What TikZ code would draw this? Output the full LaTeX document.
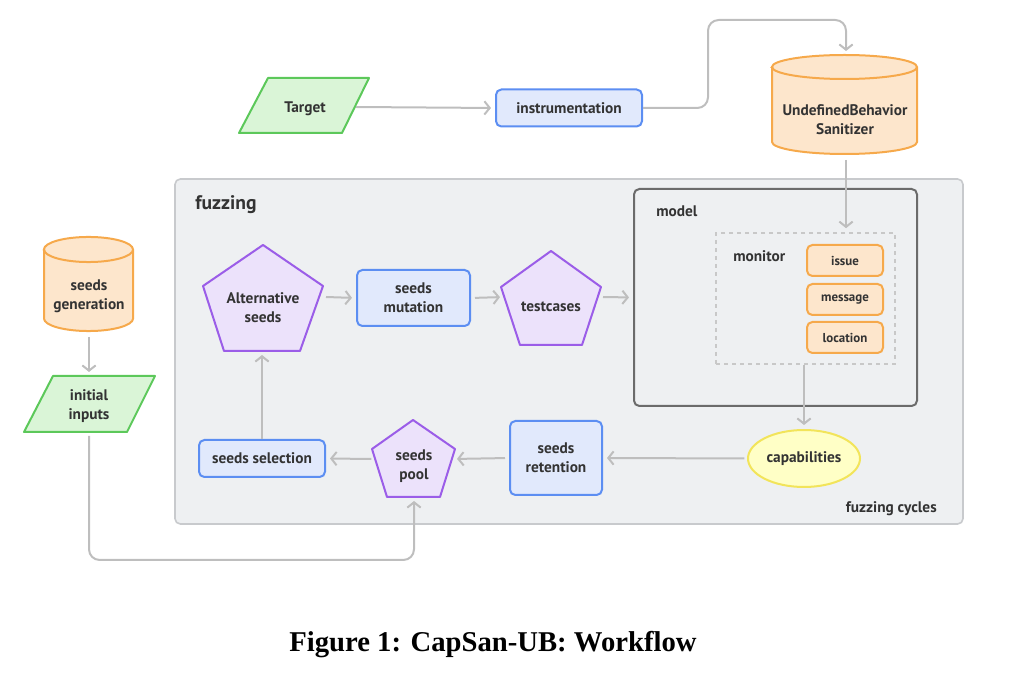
\documentclass[tikz,border=0pt]{standalone}
\usepackage{fontspec}
\setmainfont{PT Sans}
\newfontfamily\capfont{Liberation Serif}
\usetikzlibrary{arrows.meta,shapes.geometric,calc}
\definecolor{txt}{HTML}{333333}
\definecolor{arr}{HTML}{BEBEBE}
\definecolor{grnF}{HTML}{DAF5D7}
\definecolor{grnD}{HTML}{5CC85A}
\definecolor{bluF}{HTML}{E1E9FC}
\definecolor{bluD}{HTML}{5C8EF2}
\definecolor{purF}{HTML}{ECE2FB}
\definecolor{purD}{HTML}{9B5DE8}
\definecolor{orgF}{HTML}{FDE6CC}
\definecolor{orgD}{HTML}{F6A94B}
\definecolor{yelF}{HTML}{FFFFC6}
\definecolor{yelD}{HTML}{F2E45A}
\definecolor{fzF}{HTML}{EEF0F2}
\definecolor{fzD}{HTML}{C8CACD}
\definecolor{mdD}{HTML}{6B6B6B}
\definecolor{monD}{HTML}{C8C8C8}
\tikzset{
  lbl/.style={font=\bfseries\fontsize{11.5}{14.25}\selectfont, text=txt, align=center},
  small/.style={font=\bfseries\fontsize{9.7}{11}\selectfont, text=txt, align=center},
  bbox/.style={draw=bluD, fill=bluF, line width=1.5pt, rounded corners=4pt, inner sep=0pt, lbl},
  obox/.style={draw=orgD, fill=orgF, line width=1.5pt, rounded corners=4pt, inner sep=0pt, small,
    minimum width=57pt, minimum height=23.25pt},
  gpar/.style={draw=grnD, fill=grnF, line width=1.5pt, line join=round},
  pent/.style={draw=purD, fill=purF, line width=1.5pt, line join=round},
  cyl/.style={draw=orgD, fill=orgF, line width=1.5pt},
  flow/.style={draw=arr, line width=1.5pt, -{Straight Barb[length=4pt,width=10pt]}, rounded corners=8pt, shorten >=3pt},
}
\begin{document}
\begin{tikzpicture}[x=0.75pt, y=-0.75pt]
\useasboundingbox (0,0) rectangle (1022,673);

% containers
\node[draw=fzD, fill=fzF, line width=1.2pt, rounded corners=4pt, minimum width=591pt, minimum height=258.75pt, inner sep=0pt] (fuzz) at (569,351.5) {};
\node[anchor=west, font=\bfseries\fontsize{14.7}{17}\selectfont, text=txt, inner sep=0pt] (fuzzlbl) at (195,204.5) {fuzzing};
\node[anchor=east, lbl, inner sep=0pt] (cycles) at (937,509) {fuzzing cycles};
\node[draw=mdD, fill=fzF, line width=1.5pt, rounded corners=4pt, minimum width=212.25pt, minimum height=162.75pt, inner sep=0pt] (model) at (775.5,297.5) {};
\node[anchor=west, lbl, inner sep=0pt] (modellbl) at (656,211) {model};
\node[draw=monD, dashed, dash pattern=on 3pt off 3pt, line width=1.2pt, minimum width=134.25pt, minimum height=98.25pt, inner sep=0pt] (monitor) at (805.5,298.5) {};
\node[anchor=west, lbl, inner sep=0pt] (monlbl) at (733,256) {monitor};
\node[obox] (issue) at (845,260.5) {issue};
\node[obox] (message) at (845,299.5) {message};
\node[obox] (location) at (845,337.5) {location};

% Target parallelogram
\path[gpar] (268,78) -- (369,78) -- (342,133) -- (239,133) -- cycle;
\node[lbl] (target) at (305,108.5) {Target};
\coordinate (targetE) at (356,107);

% instrumentation
\node[bbox, minimum width=109.5pt, minimum height=27.75pt] (instr) at (569,108) {instrumentation};

% UBSan cylinder
\path[cyl] (772,67) -- (772,142) arc[start angle=180, end angle=360, x radius=54.4pt, y radius=9pt] -- (917,67) arc[start angle=0, end angle=180, x radius=54.4pt, y radius=9pt] -- cycle;
\draw[orgD, line width=1.5pt] (772,67) arc[start angle=180, end angle=360, x radius=54.4pt, y radius=9pt];
\node[lbl] (ubsan) at (845,120) {UndefinedBehavior\\Sanitizer};
\coordinate (ubsanN) at (846,55);
\coordinate (ubsanS) at (846,160);

% seeds generation cylinder
\path[cyl] (44,249.5) -- (44,318.5) arc[start angle=180, end angle=360, x radius=33.4pt, y radius=9.4pt] -- (133,249.5) arc[start angle=0, end angle=180, x radius=33.4pt, y radius=9.4pt] -- cycle;
\draw[orgD, line width=1.5pt] (44,249.5) arc[start angle=180, end angle=360, x radius=33.4pt, y radius=9.4pt];
\node[lbl] (gen) at (89,296.5) {seeds\\generation};
\coordinate (genS) at (89,333);

% initial inputs parallelogram
\path[gpar] (53,376) -- (155,376) -- (127,432) -- (24,432) -- cycle;
\node[lbl] (init) at (89,406) {initial\\inputs};
\coordinate (initN) at (89,376);
\coordinate (initS) at (89,436);

% Alternative seeds pentagon
\path[pent] (263,245) -- (323,286) -- (300,351) -- (224,351) -- (203,286) -- cycle;
\node[lbl] (alt) at (263,307.5) {Alternative\\seeds};
\coordinate (altE) at (326,297);
\coordinate (altS) at (262,351);

% seeds mutation
\node[bbox, minimum width=84.75pt, minimum height=42pt] (mut) at (413.5,298) {seeds\\mutation};

% testcases pentagon
\path[pent] (551,251) -- (601,287) -- (582,345) -- (520,345) -- (501,287) -- cycle;
\node[lbl] (tc) at (551,307) {testcases};
\coordinate (tcW) at (504,297);
\coordinate (tcE) at (603,297);

% capabilities
\node[ellipse, draw=yelD, fill=yelF, line width=1.5pt, minimum width=84pt, minimum height=42.75pt, inner sep=0pt, lbl] (cap) at (804,458.5) {capabilities};

% seeds retention
\node[bbox, minimum width=69pt, minimum height=55.5pt] (ret) at (556,458) {seeds\\retention};

% seeds pool pentagon
\path[pent] (413,420) -- (455,449) -- (440,497) -- (387,497) -- (372,449) -- cycle;
\node[lbl] (pool) at (414,466.5) {seeds\\pool};
\coordinate (poolE) at (453,459);
\coordinate (poolW) at (374,459);
\coordinate (poolS) at (414,497);

% seeds selection
\node[bbox, minimum width=94.5pt, minimum height=27.75pt] (sel) at (262,458.5) {seeds selection};

% connectors
\draw[flow] (targetE) -- (instr.west);
\draw[flow] (instr.east) -- (708,108) -- (708,20) -- (846,20) -- (ubsanN);
\draw[flow] (ubsanS) -- (ubsanS |- monitor.north);
\draw[flow, shorten <=3pt] (genS) -- (initN);
\draw[flow] (initS) -- (89,560) -- (414,560) -- (poolS);
\draw[flow] (monitor.south -| cap.north) -- (cap.north);
\draw[flow, shorten <=2pt] (cap.west) -- (ret.east);
\draw[flow, shorten <=3pt] (ret.west) -- (poolE);
\draw[flow, shorten <=2pt] (poolW) -- (sel.east);
\draw[flow] (sel.north) -- (altS);
\draw[flow] (altE) -- (mut.west);
\draw[flow, shorten <=3pt] (mut.east) -- (tcW);
\draw[flow] (tcE) -- (model.west);

% caption
\node[font=\capfont\bfseries\fontsize{21.5}{24}\selectfont, text=black] (caption) at (493,645) {Figure 1: CapSan-UB: Workflow};
\end{tikzpicture}
\end{document}
